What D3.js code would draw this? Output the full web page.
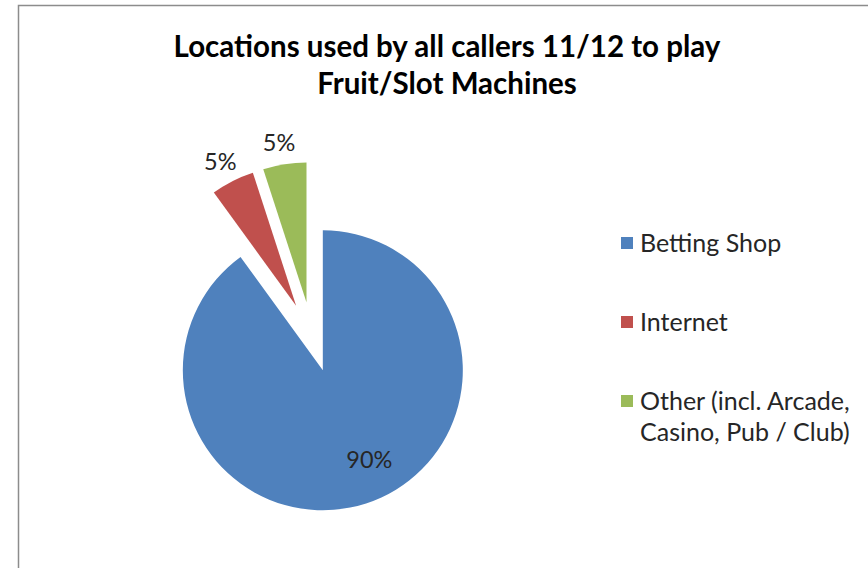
<!DOCTYPE html>
<html>
<head>
<meta charset="utf-8">
<script src="https://cdn.jsdelivr.net/npm/d3@7"></script>
<style>
  html, body { margin: 0; padding: 0; background: #fff; }
  svg { display: block; font-family: Lato, "Noto Sans", sans-serif; }
</style>
</head>
<body>
<div id="vis"></div>
<script>
const categories = ['Betting Shop', 'Internet', 'Other (incl. Arcade, Casino, Pub / Club)'];
const values = [90, 5, 5];
const legendLines = [['Betting Shop'], ['Internet'], ['Other (incl. Arcade,', 'Casino, Pub / Club)']];
const colors = ['#4F81BD', '#C0504D', '#9BBB59'];

const width = 868;
const height = 568;
const cx = 312, cy = 337;
const radius = 140;
const explode = 35;

const svg = d3.select('#vis')
  .append('svg')
  .attr('width', width)
  .attr('height', height);

// chart frame (runs off the right and bottom edge)
svg.append('rect')
  .attr('x', 18.5)
  .attr('y', 5.5)
  .attr('width', 900)
  .attr('height', 600)
  .attr('fill', '#fff')
  .attr('stroke', '#8c8c8c')
  .attr('stroke-width', 1.5);

// title
svg.append('text')
  .attr('x', 447)
  .attr('y', 57)
  .attr('text-anchor', 'middle')
  .attr('font-size', 29.5)
  .attr('font-weight', 'bold')
  .attr('fill', '#000')
  .html('<tspan x="447" dy="0">Locations used by all callers 11/12 to play</tspan>' +
        '<tspan x="447" dy="37">Fruit/Slot Machines</tspan>');

const pie = d3.pie().sort(null).value(d => d);
const arcs = pie(values);

const arc = d3.arc().innerRadius(0).outerRadius(radius);

function offset(d, dist) {
  const a = (d.startAngle + d.endAngle) / 2;
  return [Math.sin(a) * dist, -Math.cos(a) * dist];
}

const g = svg.append('g')
  .attr('transform', 'translate(' + cx + ',' + cy + ')');

g.selectAll('path')
  .data(arcs)
  .enter()
  .append('path')
  .attr('d', arc)
  .attr('fill', (d, i) => colors[i])
  .attr('transform', d => 'translate(' + offset(d, explode) + ')');

// data labels: small slices outside, big one inside
g.selectAll('text.lbl')
  .data(arcs)
  .enter()
  .append('text')
  .attr('class', 'lbl')
  .attr('text-anchor', 'middle')
  .attr('dominant-baseline', 'central')
  .attr('font-size', 23.5)
  .attr('fill', '#262626')
  .attr('transform', d => {
    const big = d.value > 50;
    const p = big ? offset({startAngle: d.startAngle - 0.25, endAngle: d.endAngle}, explode + 100)
                  : offset({startAngle: d.startAngle - 0.02, endAngle: d.endAngle}, explode + 163);
    return 'translate(' + p + ')';
  })
  .text(d => d.value + '%');

// legend
const legend = svg.append('g')
  .attr('transform', 'translate(621,243)');

const item = legend.selectAll('g')
  .data(categories)
  .enter()
  .append('g')
  .attr('transform', (d, i) => 'translate(0,' + i * 79 + ')');

item.append('rect')
  .attr('x', 0)
  .attr('y', -6)
  .attr('width', 12)
  .attr('height', 12)
  .attr('fill', (d, i) => colors[i]);

item.append('text')
  .attr('font-size', 25)
  .attr('fill', '#262626')
  .selectAll('tspan')
  .data((d, i) => legendLines[i])
  .enter()
  .append('tspan')
  .attr('x', 19)
  .attr('y', (d, j) => 9 + j * 31)
  .text(d => d);
</script>
</body>
</html>
